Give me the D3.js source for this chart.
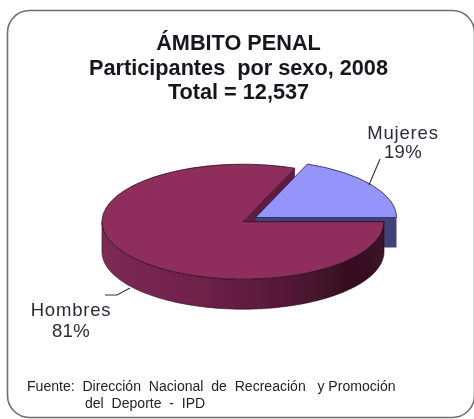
<!DOCTYPE html>
<html>
<head>
<meta charset="utf-8">
<script src="https://cdn.jsdelivr.net/npm/d3@7/dist/d3.min.js"></script>
<style>
html,body{margin:0;padding:0;background:#fff;overflow:hidden}
svg{display:block}
text{font-family:"Liberation Sans",Arial,sans-serif}
</style>
</head>
<body>
<script>
const categories = ["Mujeres", "Hombres"];
const shares = [19, 81];
const titleLines = ["ÁMBITO PENAL", "Participantes  por sexo, 2008", "Total = 12,537"];
const sourceLines = ["Fuente:  Dirección  Nacional  de  Recreación   y Promoción", "del  Deporte  -  IPD"];

const W = 474, H = 419;
const svg = d3.select("body").append("svg").attr("width", W).attr("height", H);
const defs = svg.append("defs");

const grad = defs.append("linearGradient").attr("id", "wall");
[[0, "#7d2a55"], [0.35, "#6f2149"], [0.65, "#541737"], [0.88, "#35101f"], [1, "#3d1226"]].forEach(([o, c]) =>
  grad.append("stop").attr("offset", o).attr("stop-color", c));
defs.append("filter").attr("id", "soft").append("feGaussianBlur").attr("stdDeviation", 0.45);
defs.append("filter").attr("id", "softText").append("feGaussianBlur").attr("stdDeviation", 0.3);

svg.append("rect").attr("x", 7.5).attr("y", 10.5).attr("width", 467).attr("height", 407)
  .attr("rx", 22).attr("fill", "#fff").attr("stroke", "#6e6e6e").attr("stroke-width", 1.6);

const rx = 141, ry = 57.5, depth = 30;
const hombresCentre = [243, 221.7];
const mujeresCentre = [255.5, 217.5];

const tau = 2 * Math.PI;
const pieGen = d3.pie().sort(null).value(d => d)
  .startAngle(tau / 4 - tau * shares[0] / 100)
  .endAngle(tau / 4 - tau * shares[0] / 100 + tau);
const slices = pieGen(shares);
const [mujeres, hombres] = slices;

const arc = d3.arc().innerRadius(0).outerRadius(1);
const pt = (c, a, r = 1, dy = 0) => [c[0] + rx * r * Math.sin(a), c[1] - ry * r * Math.cos(a) + dy];
const poly = d3.line();

const g = svg.append("g").attr("filter", "url(#soft)");

// cut wall of the large slice, seen behind the exploded slice
g.append("path")
  .attr("d", poly([pt(hombresCentre, 0, 0), pt(hombresCentre, hombres.endAngle), pt(hombresCentre, hombres.endAngle, 1, depth), pt(hombresCentre, 0, 0, depth)]) + "Z")
  .attr("fill", "#5f1b40");

// cut wall of the small slice
g.append("path")
  .attr("d", poly([pt(mujeresCentre, 0, 0), pt(mujeresCentre, mujeres.endAngle), pt(mujeresCentre, mujeres.endAngle, 1, depth), pt(mujeresCentre, 0, 0, depth)]) + "Z")
  .attr("fill", "#43437a");

// top of the small slice
g.append("path")
  .attr("d", arc({startAngle: mujeres.startAngle, endAngle: mujeres.endAngle}))
  .attr("transform", `translate(${mujeresCentre}) scale(${rx},${ry})`)
  .attr("fill", "#9494fa").attr("stroke", "#22224a").attr("stroke-width", 0.8)
  .attr("vector-effect", "non-scaling-stroke");

// outer wall of the large slice, front half only
const front = d3.range(hombres.startAngle, tau * 0.75 + 0.001, 0.02);
const rimTop = front.map(a => pt(hombresCentre, a));
const rimBottom = front.map(a => pt(hombresCentre, a, 1, depth)).reverse();
g.append("path").attr("d", poly(rimTop.concat(rimBottom)) + "Z")
  .attr("fill", "url(#wall)").attr("stroke", "#2a0a1a").attr("stroke-width", 0.6);

// top of the large slice
g.append("path")
  .attr("d", arc({startAngle: hombres.startAngle, endAngle: hombres.endAngle}))
  .attr("transform", `translate(${hombresCentre}) scale(${rx},${ry})`)
  .attr("fill", "#8f2d5d").attr("stroke", "#2a0f20").attr("stroke-width", 0.8)
  .attr("vector-effect", "non-scaling-stroke");

// leaders
const leader = d3.line();
const leaders = [[[380, 159], [369, 185]], [[105, 295], [117, 295], [130, 288]]];
svg.selectAll("path.leader").data(leaders).join("path").attr("class", "leader")
  .attr("d", d => leader(d)).attr("fill", "none").attr("stroke", "#333").attr("stroke-width", 1.1);

const texts = svg.append("g").attr("filter", "url(#softText)");

// titles
const titleY = [50, 75, 99];
texts.selectAll("text.t").data(titleLines).join("text").attr("class", "t")
  .attr("x", 238.5).attr("y", (d, i) => titleY[i]).attr("text-anchor", "middle")
  .attr("font-size", 21.7).attr("font-weight", "bold").attr("fill", "#15151f")
  .style("white-space", "pre").text(d => d);

// data labels
const labelPos = [[403, 139, 158], [71, 316, 337]];
slices.forEach((s, i) => {
  const [x, y1, y2] = labelPos[i];
  texts.append("text").attr("x", x).attr("y", y1).attr("text-anchor", "middle")
    .attr("font-size", 18.5).attr("letter-spacing", 0.8).attr("fill", "#2b2b3a").text(categories[i]);
  texts.append("text").attr("x", x).attr("y", y2).attr("text-anchor", "middle")
    .attr("font-size", 18.5).attr("letter-spacing", 0.4).attr("fill", "#2b2b3a").text(s.data + "%");
});

// source
const srcX = [27, 85], srcY = [391, 408];
texts.selectAll("text.s").data(sourceLines).join("text").attr("class", "s")
  .attr("x", (d, i) => srcX[i]).attr("y", (d, i) => srcY[i])
  .attr("font-size", 14.05).attr("fill", "#23232e")
  .style("white-space", "pre").text(d => d);
</script>
</body>
</html>
